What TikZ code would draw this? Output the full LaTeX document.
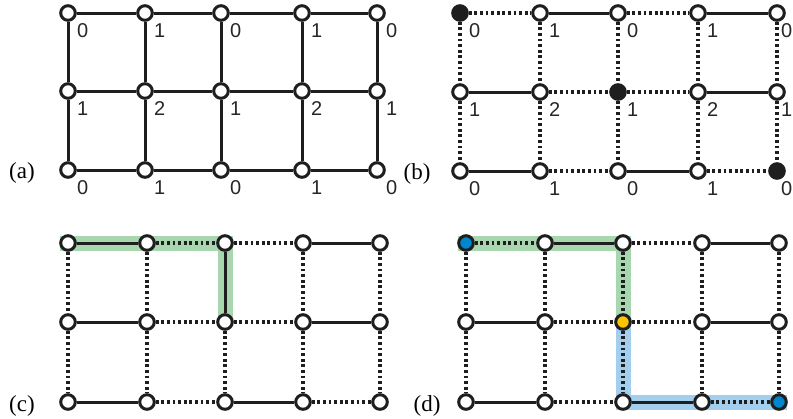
\documentclass[tikz,border=0pt]{standalone}
\usepackage{fontspec}
\setmainfont{Liberation Serif}
\newfontfamily\digitfont{Liberation Sans}
\pgfdeclarelayer{background}
\pgfsetlayers{background,main}

\definecolor{pathgreen}{RGB}{168,214,174}
\definecolor{pathblue}{RGB}{164,206,238}
\definecolor{endblue}{RGB}{0,133,207}
\definecolor{midyellow}{RGB}{250,196,0}
\definecolor{ink}{RGB}{30,30,30}

% grid of 5 x 3 vertices: name prefix, x positions, y positions
\newcommand\vertexgrid[3]{%
  \foreach \xx [count=\i from 0] in {#2}{%
    \foreach \yy [count=\j from 0] in {#3}{%
      \node[vtx,v#1\i\j/.try] (#1\i\j) at (\xx,\yy) {};
    }}}

% value labels below right of every vertex (last column: offset #2)
\newcommand\vertexvalues[2]{%
  \foreach \i/\dx/\top/\mid/\bot in {0/9/0/1/0,1/9/1/2/1,2/9/0/1/0,3/9/1/2/1,4/#2/0/1/0}{%
    \path (#1\i0) ++(\dx,24) node[val] {\top};
    \path (#1\i1) ++(\dx,24) node[val] {\mid};
    \path (#1\i2) ++(\dx,24) node[val] {\bot};
  }}

\begin{document}
\begin{tikzpicture}[x=1pt,y=-1pt,
  vtx/.style={circle,draw=ink,line width=3pt,fill=white,minimum size=14.6pt,inner sep=0pt},
  solidedge/.style={draw=ink,line width=3pt},
  dotedge/.style={draw=ink,line width=3.2pt,dash pattern=on 2.8pt off 2.8pt},
  val/.style={anchor=base west,inner sep=0pt,font=\digitfont\fontsize{20}{20}\selectfont,text=black!85},
  panel/.style={anchor=base,inner sep=0pt,font=\fontsize{23}{23}\selectfont},
  band/.style={line width=15pt,line cap=butt,line join=miter},
  % special vertices
  vb00/.style={fill=ink}, vb21/.style={fill=ink}, vb42/.style={fill=ink},
  vd00/.style={fill=endblue}, vd21/.style={fill=midyellow}, vd42/.style={fill=endblue}]

\useasboundingbox (0,0) rectangle (793,418);

% ---------- vertices ----------
\vertexgrid{a}{68,145,221,302,377}{13,91,170}
\vertexgrid{b}{460,540,618,698,777}{13,92,171}
\vertexgrid{c}{68,147,225,303,380}{243,322,402}
\vertexgrid{d}{466,545,623,702,779}{243,322,402}

% ---------- (a): full grid ----------
\foreach \j in {0,1,2}
  \foreach \u/\v in {0/1,1/2,2/3,3/4}
    \draw[solidedge] (a\u\j) -- (a\v\j);
\foreach \i in {0,...,4}{
  \draw[solidedge] (a\i0) -- (a\i1);
  \draw[solidedge] (a\i1) -- (a\i2);
}

% ---------- (b) and (d): matching ----------
\foreach \p in {b,d}{
  \foreach \u/\v in {10/20,30/40,01/11,31/41,02/12,22/32}
    \draw[solidedge] (\p\u) -- (\p\v);
  \foreach \u/\v in {00/10,20/30,11/21,21/31,12/22,32/42}
    \draw[dotedge] (\p\u) -- (\p\v);
  \foreach \i in {0,...,4}{
    \draw[dotedge] (\p\i0) -- (\p\i1);
    \draw[dotedge] (\p\i1) -- (\p\i2);
  }
}

% ---------- (c) ----------
\foreach \u/\v in {00/10,30/40,01/11,31/41,02/12,22/32,20/21}
  \draw[solidedge] (c\u) -- (c\v);
\foreach \u/\v in {10/20,20/30,11/21,21/31,12/22,32/42,
                   00/01,10/11,30/31,40/41,01/02,11/12,21/22,31/32,41/42}
  \draw[dotedge] (c\u) -- (c\v);

% ---------- highlighted paths ----------
\begin{pgfonlayer}{background}
  \draw[band,pathgreen] ([xshift=-8pt]c00.center) -- (c20.center) -- (c21.center);
  \draw[band,pathgreen] ([xshift=-8pt]d00.center) -- (d20.center) -- (d21.center);
  \draw[band,pathblue] (d21.center) -- (d22.center) -- ([xshift=8pt]d42.center);
\end{pgfonlayer}

% ---------- values ----------
\vertexvalues{a}{9}
\vertexvalues{b}{4}

% ---------- panel letters ----------
\path (a02) ++(-46,8) node[panel] {(a)};
\path (b02) ++(-43,8) node[panel] {(b)};
\path (c02) ++(-46,9) node[panel] {(c)};
\path (d02) ++(-39,9) node[panel] {(d)};
\end{tikzpicture}
\end{document}
